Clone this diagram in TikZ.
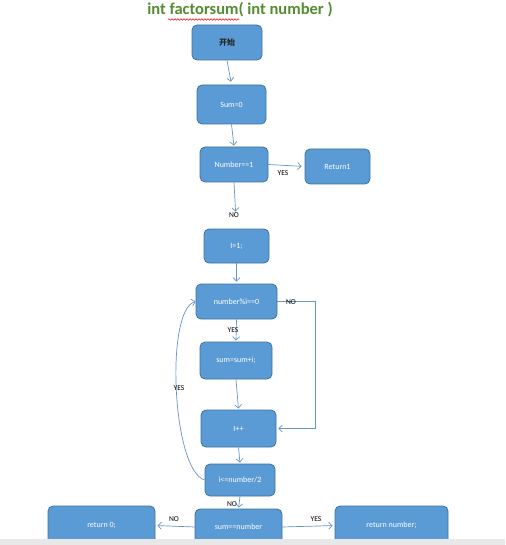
\documentclass[tikz,border=0pt]{standalone}
\usepackage{fontspec}
\setmainfont{Carlito}
\newfontfamily\cjk{Noto Sans CJK SC}
\usetikzlibrary{arrows.meta,decorations.pathmorphing}
\definecolor{boxfill}{RGB}{91,155,213}
\definecolor{boxline}{RGB}{65,113,156}
\definecolor{arrowc}{RGB}{100,150,200}
\definecolor{titlegreen}{RGB}{84,140,48}
\tikzset{
  box/.style={draw=boxline, line width=0.8pt, fill=boxfill, rounded corners=5pt,
    text=white, font=\fontsize{8}{9}\selectfont, inner sep=0pt, anchor=center},
  conn/.style={draw=arrowc, line width=0.7pt, -{Straight Barb[length=3.5pt,width=7pt]}},
  lbl/.style={font=\fontsize{7.5}{8}\selectfont, text=black, inner sep=0pt}
}
\begin{document}
\begin{tikzpicture}[x=1pt,y=-1pt]
\useasboundingbox (0,0) rectangle (505,545);
\fill[white] (0,0) rectangle (505,545);
% title
\node[font=\fontsize{16.5}{18}\selectfont\bfseries, text=titlegreen, inner sep=0pt] (title) at (240,10) {int factorsum( int number )};
\draw[red, line width=0.5pt, decorate, decoration={snake, amplitude=0.8pt, segment length=3pt}] (168,19.5) -- (239,19.5);
% boxes
\node[box, minimum width=70pt, minimum height=35pt] (start) at (227,42.5) {\cjk\bfseries\color{black!85} 开始};
\node[box, minimum width=69pt, minimum height=39pt] (sum0) at (231.5,104.5) {Sum=0};
\node[box, minimum width=68pt, minimum height=35pt] (n1) at (234,164.5) {Number==1};
\node[box, minimum width=65pt, minimum height=35pt] (ret1) at (337.5,166.5) {Return1};
\node[box, minimum width=65pt, minimum height=34pt] (i1) at (236.5,246) {I=1;};
\node[box, minimum width=81pt, minimum height=35pt] (mod) at (236.5,301.5) {number\%i==0};
\node[box, minimum width=72pt, minimum height=37pt] (add) at (236,360.5) {sum=sum+i;};
\node[box, minimum width=75pt, minimum height=37pt] (inc) at (238.5,428.5) {I++};
\node[box, minimum width=70pt, minimum height=32pt] (cond) at (240,480) {i<=number/2};
\node[box, minimum width=87pt, minimum height=36pt] (eq) at (238.5,527) {sum==number};
\node[box, minimum width=107pt, minimum height=39pt] (ret0) at (101.5,525.5) {return 0;};
\node[box, minimum width=113pt, minimum height=39pt] (retn) at (391.5,525.5) {return number;};
% connectors
\draw[conn, shorten >=3pt] (start.south) -- (sum0.north);
\draw[conn, shorten >=1pt] (sum0.south) -- (n1.north);
\draw[conn, shorten >=3pt] (n1.east) -- (ret1.west);
\node[lbl] (yes1) at (283,173) {YES};
\draw[conn, shorten >=17pt] (n1.south) -- (i1.north);
\node[lbl] (no1) at (234,215) {NO};
\draw[conn, shorten >=2pt] (i1.south) -- (mod.north);
\draw[conn, shorten >=1pt] (mod.south) -- (add.north);
\node[lbl] (yes2) at (233,330) {YES};
\coordinate (rc) at (315,301.5);
\draw[conn, shorten >=2pt] (mod.east) -- (rc) |- (inc.east);
\node[lbl] (no2) at (291,302) {NO};
\draw[conn, shorten >=1pt] (add.south) -- (inc.north);
\draw[conn, shorten >=1pt] (inc.south) -- (cond.north);
\draw[conn] (cond.west) .. controls (172,470) and (165,310) .. (mod.west);
\node[lbl] (yes3) at (179,388) {YES};
\draw[conn, shorten >=1pt] (cond.south) -- (eq.north);
\node[lbl] (no3) at (232,504) {NO};
\draw[conn, shorten >=2pt] (eq.west) -- (ret0.east);
\node[lbl] (no4) at (174,519) {NO};
\draw[conn, shorten >=2pt] (eq.east) -- (retn.west);
\node[lbl] (yes4) at (316,519) {YES};
% bottom bar
\fill[gray!18] (0,538.5) rectangle (505,545);
\end{tikzpicture}
\end{document}
